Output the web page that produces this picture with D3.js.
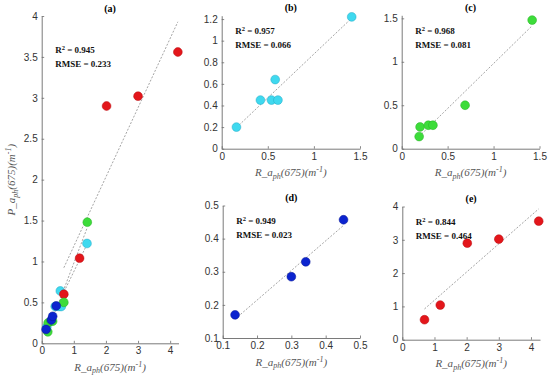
<!DOCTYPE html>
<html><head><meta charset="utf-8">
<script src="https://cdn.jsdelivr.net/npm/d3@7"></script>
<style>body{margin:0;background:#fff} svg{display:block}</style>
</head><body><svg id="c" width="550" height="383"></svg>
<script>
// ---- data ----
const cyanX  = [0.16, 0.42, 0.54, 0.61, 0.58, 1.41];
const cyanY  = [0.20, 0.45, 0.45, 0.45, 0.64, 1.22];
const greenX = [0.19, 0.20, 0.29, 0.34, 0.69, 1.42];
const greenY = [0.14, 0.25, 0.27, 0.27, 0.50, 1.48];
const blueX  = [0.136, 0.30, 0.342, 0.452];
const blueY  = [0.17, 0.285, 0.33, 0.457];
const redX   = [0.69, 1.18, 2.02, 3.00, 4.24];
const redY   = [0.60, 1.04, 2.90, 3.02, 3.56];

const panelTitles = ["(a)", "(b)", "(c)", "(d)", "(e)"];
const r2Values    = ["0.945", "0.957", "0.968", "0.949", "0.844"];
const rmseValues  = ["0.233", "0.066", "0.081", "0.023", "0.464"];
const ticksA  = {x:[0,1,2,3,4], y:[0,0.5,1,1.5,2,2.5,3,3.5,4]};
const ticksB  = {x:[0,0.5,1,1.5], y:[0,0.2,0.4,0.6,0.8,1,1.2]};
const ticksC  = {x:[0,0.5,1,1.5], y:[0,0.5,1,1.5]};
const ticksD  = {x:[0.1,0.2,0.3,0.4,0.5], y:[0.1,0.2,0.3,0.4,0.5]};
const ticksE  = {x:[0,1,2,3,4], y:[0,1,2,3,4]};

const groups = {
  cyan:  {x: cyanX,  y: cyanY,  fill: "#3fd9ef", stroke: "#22a9c4"},
  red:   {x: redX,   y: redY,   fill: "#e3161b", stroke: "#b80c10"},
  green: {x: greenX, y: greenY, fill: "#3ddc3a", stroke: "#26b024"},
  blue:  {x: blueX,  y: blueY,  fill: "#0c24cf", stroke: "#061794"}
};

const panels = [
  {l:41.7, r:178.5, t:16,   b:343.3, xd:[0,4.26], yd:[0,4],     ticks:ticksA, g:["cyan","red","green","blue"], sy:53,  ylab:true},
  {l:221.7,r:360,   t:15.7, b:148.7, xd:[0,1.5],  yd:[0,1.231], ticks:ticksB, g:["cyan"],  sy:34},
  {l:401.7,r:539.5, t:15.3, b:148.7, xd:[0,1.5],  yd:[0,1.535], ticks:ticksC, g:["green"], sy:34},
  {l:222.7,r:360,   t:205.5,b:338,   xd:[0.1,0.5],yd:[0.1,0.5], ticks:ticksD, g:["blue"],  sy:224},
  {l:402.3,r:540,   t:206.5,b:339.7, xd:[0,4.28], yd:[0,4],     ticks:ticksE, g:["red"],   sy:225}
];

function fit(xs, ys){
  const mx=d3.mean(xs), my=d3.mean(ys);
  let sxy=0, sxx=0;
  xs.forEach((x,i)=>{sxy+=(x-mx)*(ys[i]-my); sxx+=(x-mx)*(x-mx);});
  const b=sxy/sxx, a=my-b*mx;
  const x0=d3.min(xs), x1=d3.max(xs);
  return [[x0,a+b*x0],[x1,a+b*x1]];
}

const svg = d3.select("#c");
const serif = "'Liberation Serif','Times New Roman',serif";
const sans = "'Liberation Sans',Arial,sans-serif";
const fmt = d3.format("~g");

function axisLabel(sel, first){
  sel.append("tspan").text(first+"_a");
  sel.append("tspan").attr("dy",2.5).attr("font-size",8).text("ph");
  sel.append("tspan").attr("dy",-2.5).text("(675)(m");
  sel.append("tspan").attr("dy",-4).attr("font-size",8).text("-1");
  sel.append("tspan").attr("dy",4).text(")");
}

panels.forEach((p,i)=>{
  const x = d3.scaleLinear().domain(p.xd).range([p.l,p.r]);
  const y = d3.scaleLinear().domain(p.yd).range([p.b,p.t]);
  const g = svg.append("g");

  const xa = g.append("g").attr("transform",`translate(0,${p.b})`)
    .call(d3.axisBottom(x).tickValues(p.ticks.x).tickFormat(fmt).tickSizeInner(-2.5).tickSizeOuter(0).tickPadding(4));
  const ya = g.append("g").attr("transform",`translate(${p.l},0)`)
    .call(d3.axisLeft(y).tickValues(p.ticks.y).tickFormat(fmt).tickSizeInner(-2.5).tickSizeOuter(0).tickPadding(4));
  [xa,ya].forEach(a=>{
    a.select(".domain").attr("stroke","#6b6b6b").attr("stroke-width",0.9);
    a.selectAll(".tick line").attr("stroke","#6b6b6b").attr("stroke-width",0.8);
    a.selectAll("text").attr("fill","#333").attr("font-family",sans).attr("font-size",10);
  });

  // regression lines
  p.g.forEach(k=>{
    const gr=groups[k];
    const seg=fit(gr.x,gr.y);
    g.append("line")
      .attr("x1",x(seg[0][0])).attr("y1",y(seg[0][1]))
      .attr("x2",x(seg[1][0])).attr("y2",y(seg[1][1]))
      .attr("stroke","#9a9a9a").attr("stroke-width",0.9).attr("stroke-dasharray","2,1.6");
  });
  // points
  p.g.forEach(k=>{
    const gr=groups[k];
    g.selectAll(null).data(gr.x.map((v,j)=>[v,gr.y[j]])).join("circle")
      .attr("cx",d=>x(d[0])).attr("cy",d=>y(d[1])).attr("r",4.4)
      .attr("fill",gr.fill).attr("stroke",gr.stroke).attr("stroke-width",0.5);
  });

  // title
  g.append("text").attr("x",(p.l+p.r)/2).attr("y",p.t-4.5).attr("text-anchor","middle")
    .attr("font-family",serif).attr("font-weight","bold").attr("font-size",10).text(panelTitles[i]);

  // stats
  const st = g.append("text").attr("x",p.l+13.5).attr("y",p.sy)
    .attr("font-family",serif).attr("font-weight","bold").attr("font-size",9).attr("fill","#111");
  st.append("tspan").text("R");
  st.append("tspan").attr("dy",-3.5).attr("font-size",6.5).text("2");
  st.append("tspan").attr("dy",3.5).text(" = "+r2Values[i]);
  g.append("text").attr("x",p.l+13.5).attr("y",p.sy+13.5)
    .attr("font-family",serif).attr("font-weight","bold").attr("font-size",9).attr("fill","#111")
    .text("RMSE = "+rmseValues[i]);

  // x label
  const xl = g.append("text").attr("x",(p.l+p.r)/2).attr("y",p.b+27.5).attr("text-anchor","middle")
    .attr("font-family",serif).attr("font-style","italic").attr("font-size",11).attr("fill","#555");
  axisLabel(xl,"R");
  if(p.ylab){
    const yl = g.append("text").attr("transform",`translate(15,${(p.t+p.b)/2}) rotate(-90)`).attr("text-anchor","middle")
      .attr("font-family",serif).attr("font-style","italic").attr("font-size",11).attr("fill","#555");
    axisLabel(yl,"P");
  }
});
</script></body></html>
